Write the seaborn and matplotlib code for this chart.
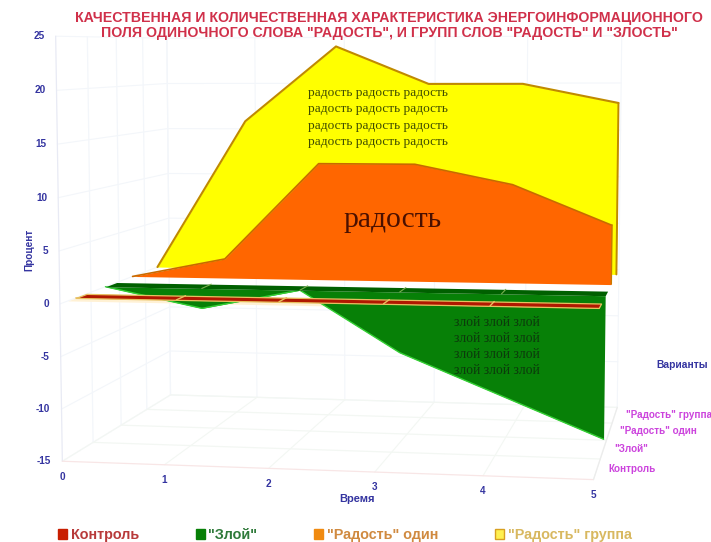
import numpy as np
import pandas as pd
import seaborn as sns
import matplotlib
matplotlib.use("Agg")
import matplotlib.pyplot as plt
import matplotlib.transforms as mtransforms
from matplotlib.patches import Patch

# ---------- data ----------
times = [0, 1, 2, 3, 4, 5]
control = [0, 0, 0, 0, 0, 0]
angry = [0, -2, 0, -6, -10, -14]
joy_single = [0, 2, 12, 12, 10, 6]
joy_group = [0, 16, 24, 20, 20, 18]
value_ticks = [25, 20, 15, 10, 5, 0, -5, -10, -15]
series_names = ["Контроль", '"Злой"', '"Радость" один', '"Радость" группа']
title_lines = ['КАЧЕСТВЕННАЯ И КОЛИЧЕСТВЕННАЯ ХАРАКТЕРИСТИКА ЭНЕРГОИНФОРМАЦИОННОГО',
               'ПОЛЯ ОДИНОЧНОГО СЛОВА "РАДОСТЬ", И ГРУПП СЛОВ "РАДОСТЬ" И "ЗЛОСТЬ"']

sns.set_theme(style="white")
plt.rcParams["font.family"] = ["Liberation Sans", "DejaVu Sans"]

W, H = 711, 542
fig = plt.figure(figsize=(W / 100, H / 100), dpi=100)
ax = fig.add_axes([0, 0, 1, 1])

# ---------- perspective scale of the 3D box: (time, value, depth) -> canvas ----------
view_refs = [
    (0, -15, 0, 63, 461), (0, 25, 0, 58, 35), (5, -15, 0, 593, 479),
    (0, -15, 4, 173, 395), (5, -15, 4, 618, 405), (0, 0, 0, 60, 303),
    (1, -15, 0, 165, 465), (3, -15, 0, 374, 472),
    (0, 0, .5, 75, 298), (5, 0, .5, 599, 309),
    (0, 0, 1.5, 103, 287), (5, 0, 1.5, 607, 296),
    (0, 0, 2.5, 133, 277), (5, 0, 2.5, 611, 285),
    (0, 0, 3.5, 155, 268), (2, 24, 3.5, 337, 47), (5, 18, 3.5, 618, 103),
    (2, 12, 2.5, 317, 163), (5, 6, 2.5, 611, 225), (5, -14, 1.5, 603, 441),
]
_A, _b = [], []
for t, v, d, x, y in view_refs:
    _A.append([t, v, d, 1, 0, 0, 0, 0, -x * t, -x * v, -x * d]); _b.append(x)
    _A.append([0, 0, 0, 0, t, v, d, 1, -y * t, -y * v, -y * d]); _b.append(y)
_p = np.linalg.lstsq(np.array(_A, float), np.array(_b, float), rcond=None)[0]
CAM = np.append(_p, 1.0).reshape(3, 4)


class Plane(mtransforms.Transform):
    """2D data on a plane of the box, mapped through the perspective camera."""
    input_dims = 2
    output_dims = 2
    is_separable = False
    has_inverse = False

    def __init__(self, mapper):
        super().__init__()
        self.mapper = mapper

    def transform_non_affine(self, values):
        values = np.asarray(values, float).reshape(-1, 2)
        t, v, d = self.mapper(values[:, 0], values[:, 1])
        h = CAM @ np.vstack([t, v, d, np.ones_like(t)])
        return (h[:2] / h[2]).T


def at_depth(d):
    return Plane(lambda a, b: (a, b, np.full_like(a, d))) + ax.transData


def at_level(v):
    return Plane(lambda a, b: (a, np.full_like(a, v), b)) + ax.transData


def left_wall():
    return Plane(lambda a, b: (np.zeros_like(a), b, a)) + ax.transData


# ---------- faint box grid ----------
GRID = "#f3f6fa"
FLOOR = "#f3f7f3"
for v in value_ticks:
    ax.plot([0, 5], [v, v], color=GRID, lw=.8, transform=at_depth(4), zorder=1)
    ax.plot([0, 4], [v, v], color=GRID, lw=.8, transform=left_wall(), zorder=1)
for t in times:
    ax.plot([t, t], [-15, 25], color=GRID, lw=.8, transform=at_depth(4), zorder=1)
    ax.plot([t, t], [0, 4], color=FLOOR, lw=.8, transform=at_level(-15), zorder=1)
for d in range(5):
    ax.plot([0, 0], [-15, 25], color=GRID if d else "#e8eaf4", lw=.9,
            transform=at_depth(d), zorder=1)
    ax.plot([0, 5], [d, d], color="#f8e6e6" if d == 0 else FLOOR, lw=.9,
            transform=at_level(-15), zorder=1)
ax.plot([5, 5], [0, 4], color="#ececec", lw=.9, transform=at_level(-15), zorder=1)

# ---------- series, back to front ----------
styles = [
    (joy_group, 3.5, "#ffff00", "#c08a00", 1.5, 2),
    (joy_single, 2.5, "#ff6600", "#c86a00", 1.2, 3),
    (angry, 1.5, "#078007", "#35d035", 1.0, 4),
    (control, 0.5, "#b01800", "#e8c060", 1.0, 6),
]
for values, depth, face, edge, lw, z in styles:
    tr = at_depth(depth)
    ax.fill_between(times, 0, values, color=face, lw=0, transform=tr, zorder=z, clip_on=False)
    frame = pd.DataFrame({"t": times, "v": values})
    sns.lineplot(data=frame, x="t", y="v", estimator=None, sort=False, errorbar=None,
                 color=edge, lw=lw, transform=tr, zorder=z + .2, clip_on=False, ax=ax)

# side of the two joy areas
ax.plot([5, 5], [0, joy_group[-1]], color="#c08a00", lw=1.4, transform=at_depth(3.5), zorder=2.3)
ax.plot([5, 5], [0, joy_single[-1]], color="#c87a00", lw=1.0, transform=at_depth(2.55), zorder=3.3)

# top ribbons lying on the zero level
ax.fill_between([0, 5], 1.5, 1.9, color="#006000", lw=0, transform=at_level(0), zorder=4.5)
ax.fill_between([0, 5], 0.25, 0.5, color="#fff1d4", lw=0, transform=at_level(0), zorder=3.9)
ax.fill_between([0, 5], 0.5, 0.85, facecolor="#b01800", edgecolor="#e8c060", lw=.9,
                transform=at_level(0), zorder=6.5)
for t in times[1:-1]:
    ax.plot([t, t], [1.5, 1.9], color="#7ab050", lw=.8, transform=at_level(0), zorder=4.6)
    ax.plot([t, t], [.5, .85], color="#e8c060", lw=1, transform=at_level(0), zorder=6.6)

# ---------- axes text ----------
NAVY = "#3434a0"
tick_font = dict(fontsize=7.2, fontweight="bold", color=NAVY)
for v in value_ticks:
    ax.annotate(str(v), xy=(0, v), xycoords=at_depth(0), xytext=(-8, 0), textcoords="offset points",
                ha="right", va="center", annotation_clip=False, **tick_font)
for t in times:
    ax.annotate(str(t), xy=(t, -15), xycoords=at_depth(0), xytext=(0, -11), textcoords="offset points",
                ha="center", va="center", annotation_clip=False, **tick_font)
for name, d in zip(series_names, [.5, 1.5, 2.5, 3.5]):
    ax.annotate(name, xy=(5, -15), xycoords=at_depth(d), xytext=(8, 0), textcoords="offset points",
                ha="left", va="center", fontsize=7.1, fontweight="bold", color="#cc44dd",
                annotation_clip=False)

ax.text(357, 499, "Время", ha="center", va="center", fontsize=8, fontweight="bold", color=NAVY)
ax.text(29, 250, "Процент", ha="center", va="center", rotation=90, **tick_font)
ax.text(708, 365, "Варианты", ha="right", va="center", fontsize=7.4,
        fontweight="bold", color=NAVY)

# ---------- words on the areas ----------
for y in [93, 109, 126, 142]:
    ax.text(378, y, "радость радость радость", ha="center", va="center", fontsize=9.6,
            family="Liberation Serif", color="#3f4c00", zorder=10)
ax.text(393, 220, "радость", ha="center", va="center", fontsize=21.3,
        family="Liberation Serif", color="#4a1000", zorder=10)
for y in [323, 339, 355, 371]:
    ax.text(497, y, "злой злой злой", ha="center", va="center", fontsize=9.8,
            family="Liberation Serif", color="#0c3a0c", zorder=10)

# ---------- title ----------
for line, y in zip(title_lines, [18, 33]):
    ax.text(389, y, line, ha="center", va="center", fontsize=10.2, fontweight="bold",
            color="#d0304a", zorder=10)

# ---------- legend ----------
handles = [Patch(facecolor="#c81e00", edgecolor="#c81e00"),
           Patch(facecolor="#078007", edgecolor="#078007"),
           Patch(facecolor="#f08a10", edgecolor="#f08a10"),
           Patch(facecolor="#fff050", edgecolor="#d8a020")]
fig.legend(handles, series_names, loc="center", bbox_to_anchor=(345 / W, 1 - 535 / H), ncol=4,
           frameon=False, handlelength=.62, handleheight=.62, handletextpad=.25, columnspacing=3.95,
           prop={"size": 10.4, "weight": "bold"},
           labelcolor=["#b83a3a", "#2f7a3a", "#d08a40", "#d8b860"])

ax.set_xlim(0, W)
ax.set_ylim(H, 0)
ax.axis("off")
fig.savefig("out.png", dpi=100)
